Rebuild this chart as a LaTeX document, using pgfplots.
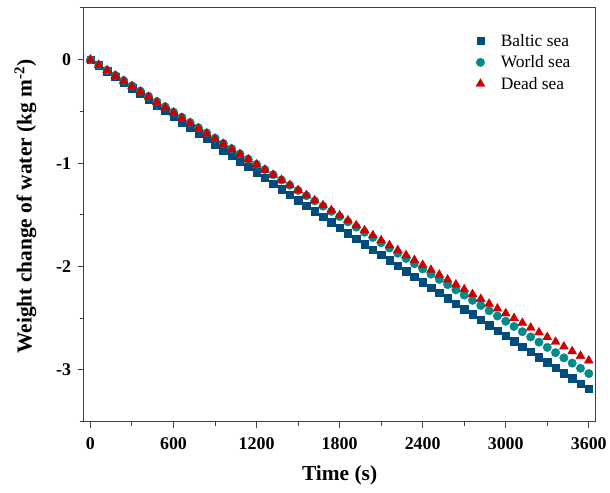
\documentclass[border=0pt]{standalone}
\usepackage{fontspec}
\setmainfont{Liberation Serif}
\usepackage{pgfplots}
\usepackage{pgfplotstable}
\pgfplotsset{compat=1.18}
\definecolor{baltic}{RGB}{0,76,124}
\definecolor{world}{RGB}{0,138,138}
\definecolor{dead}{RGB}{204,0,0}

\pgfplotstableread{
t B W D
0 0 0 0
60 -0.0552 -0.0506 -0.0518
120 -0.1103 -0.1012 -0.1036
180 -0.1653 -0.1517 -0.1552
240 -0.2202 -0.2023 -0.2067
300 -0.2751 -0.2529 -0.2581
360 -0.3299 -0.3035 -0.3094
420 -0.3846 -0.3541 -0.3605
480 -0.4393 -0.4046 -0.4116
540 -0.4939 -0.4552 -0.4625
600 -0.5484 -0.5058 -0.5133
660 -0.6028 -0.5564 -0.5640
720 -0.6572 -0.6070 -0.6146
780 -0.7115 -0.6575 -0.6651
840 -0.7657 -0.7081 -0.7155
900 -0.8199 -0.7587 -0.7658
960 -0.8740 -0.8093 -0.8159
1020 -0.9280 -0.8599 -0.8659
1080 -0.9819 -0.9104 -0.9158
1140 -1.0358 -0.9610 -0.9656
1200 -1.0896 -1.0116 -1.0153
1260 -1.1433 -1.0622 -1.0649
1320 -1.1970 -1.1128 -1.1144
1380 -1.2506 -1.1633 -1.1637
1440 -1.3041 -1.2139 -1.2130
1500 -1.3575 -1.2645 -1.2621
1560 -1.4109 -1.3151 -1.3111
1620 -1.4642 -1.3657 -1.3600
1680 -1.5174 -1.4162 -1.4088
1740 -1.5705 -1.4668 -1.4575
1800 -1.6236 -1.5174 -1.5060
1860 -1.6766 -1.5680 -1.5545
1920 -1.7295 -1.6186 -1.6028
1980 -1.7824 -1.6691 -1.6510
2040 -1.8352 -1.7197 -1.6991
2100 -1.8879 -1.7703 -1.7471
2160 -1.9405 -1.8209 -1.7950
2220 -1.9931 -1.8715 -1.8427
2280 -2.0456 -1.9220 -1.8904
2340 -2.0980 -1.9726 -1.9379
2400 -2.1504 -2.0232 -1.9853
2460 -2.2027 -2.0738 -2.0327
2520 -2.2549 -2.1244 -2.0799
2580 -2.3070 -2.1749 -2.1269
2640 -2.3591 -2.2255 -2.1739
2700 -2.4111 -2.2761 -2.2208
2760 -2.4630 -2.3267 -2.2675
2820 -2.5149 -2.3773 -2.3141
2880 -2.5667 -2.4278 -2.3607
2940 -2.6184 -2.4784 -2.4071
3000 -2.6700 -2.5290 -2.4534
3060 -2.7216 -2.5796 -2.4995
3120 -2.7731 -2.6302 -2.5456
3180 -2.8245 -2.6807 -2.5915
3240 -2.8758 -2.7313 -2.6374
3300 -2.9271 -2.7819 -2.6831
3360 -2.9783 -2.8325 -2.7287
3420 -3.0294 -2.8831 -2.7742
3480 -3.0805 -2.9336 -2.8196
3540 -3.1315 -2.9842 -2.8649
3600 -3.1824 -3.0348 -2.9100
}\weight

\begin{document}
\begin{tikzpicture}
\begin{axis}[
    scale only axis,
    width=515pt, height=416pt,
    xmin=-50, xmax=3650,
    ymin=-3.5, ymax=0.5,
    axis line style={black!75, line width=1pt},
    tick style={black!75, line width=1pt},
    tick align=outside,
    xtick pos=bottom, ytick pos=left,
    major tick length=6pt, minor tick length=4pt,
    xtick={0,600,1200,1800,2400,3000,3600},
    xticklabels={0,600,1200,1800,2400,3000,3600},
    minor xtick={300,900,1500,2100,2700,3300},
    ytick={-3,-2,-1,0},
    yticklabels={-3,-2,-1,0},
    minor ytick={-3.5,-2.5,-1.5,-0.5,0.5},
    ticklabel style={font=\fontsize{18}{18}\selectfont\bfseries},
    xticklabel style={yshift=-6pt},
    yticklabel style={xshift=-3pt},
    xlabel={Time (s)},
    ylabel={Weight change of water (kg m\textsuperscript{-2})},
    label style={font=\fontsize{21.5}{24}\selectfont\bfseries},
    xlabel style={at={(axis description cs:0.5,-0.13)}, anchor=center},
    ylabel style={at={(axis description cs:-0.1135,0.52)}, anchor=center},
    legend style={at={(0.76,0.947)}, anchor=north west, draw=none, fill=none,
        font=\fontsize{17.5}{19}\selectfont, row sep=4pt, column sep=14pt},
    legend cell align=left,
]
\addplot[only marks, mark=square*, mark size=3.75pt, color=baltic] table[x=t, y=B] {\weight};
\addlegendentry{Baltic sea}
\addplot[only marks, mark=*, mark size=4.25pt, color=world] table[x=t, y=W] {\weight};
\addlegendentry{World sea}
\addplot[only marks, mark=triangle*, mark size=5.2pt, color=dead] table[x=t, y=D] {\weight};
\addlegendentry{Dead sea}
\end{axis}
\path (current axis.south west) ++(-84pt,-71pt) rectangle ++(610pt,495pt);
\end{tikzpicture}
\end{document}
